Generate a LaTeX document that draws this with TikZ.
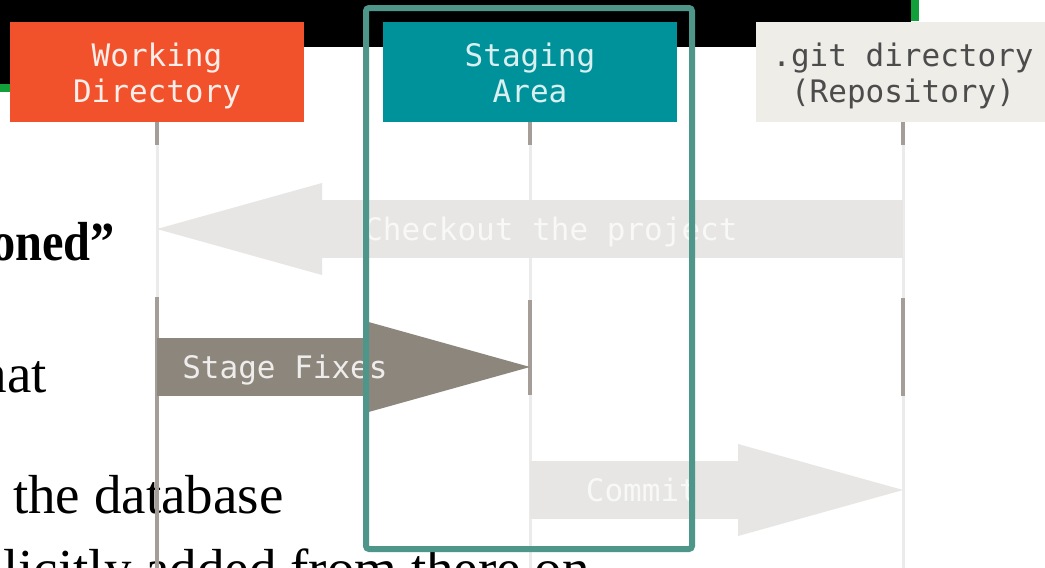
\documentclass[tikz,border=0pt]{standalone}
\usepackage{fontspec}
\usepackage{xcolor}
\usepackage{tikz}
\usetikzlibrary{positioning, arrows.meta}
\newfontfamily\gitmono{DejaVu Sans Mono}
\newfontfamily\slideserif{Liberation Serif}
\newfontfamily\slideserifbold[FakeStretch=0.88]{Liberation Serif Bold}
\definecolor{wdorange}{HTML}{F2522B}
\definecolor{stagingteal}{HTML}{00929A}
\definecolor{repobeige}{HTML}{EEEDE8}
\definecolor{framegreen}{HTML}{4E968A}
\definecolor{slidegreen}{HTML}{12A03A}
\definecolor{lineLight}{HTML}{EBEBEB}
\definecolor{lineDark}{HTML}{A59D97}
\definecolor{arrowLight}{HTML}{E7E6E4}
\definecolor{arrowDark}{HTML}{8D867D}
\tikzset{
	box/.style={minimum width=294pt, minimum height=100pt, inner sep=0pt, align=center, text height=61pt, text depth=0pt, font=\gitmono\fontsize{31}{36}\selectfont},
	lifeline/.style={draw=lineLight, line width=3pt},
	active/.style={draw=lineDark, line width=4pt},
	fatarrow/.style={line width=58pt, -{Triangle[length=165pt, width=92pt, line width=0pt]}},
	arrowtext/.style={font=\gitmono\fontsize{31}{37}\selectfont, inner sep=0pt, text height=22.6pt, text depth=0pt},
	slidetext/.style={font=\slideserif\fontsize{55}{60}\selectfont, inner sep=0pt, text=black},
}

\begin{document}
\begin{tikzpicture}[x=1pt, y=-1pt]
	\useasboundingbox (0,0) rectangle (1045,568);
	\clip (0,0) rectangle (1045,568);
	\fill[white] (0,0) rectangle (1045,568);

	\fill[black] (0,0) rectangle (911,47);
	\fill[black] (0,0) rectangle (10,84);
	\fill[slidegreen] (0,84) rectangle (10,92);
	\fill[slidegreen] (911,0) rectangle (919,21);

	\node[slidetext, anchor=base east] (line1) at (115,260) {\slideserifbold oned”};
	\node[slidetext, anchor=base east] (line2) at (47,392) {hat};
	\node[slidetext, anchor=base west] (line3) at (13,513) {the database};
	\node[slidetext, anchor=base west] (line4) at (3,587) {licitly added from there on};

	\node[box, fill=wdorange, text=white!90!wdorange] (wd) at (157,72) {Working\\Directory};
	\node[box, fill=stagingteal, text=white!85!stagingteal] (sa) at (530,72) {Staging\\Area};
	\node[box, fill=repobeige, text=black!70] (git) at (903,72) {.git directory\\(Repository)};

	\draw[lifeline] (wd.south) -- (wd.south |- 0,568);
	\draw[lifeline] (sa.south) -- (sa.south |- 0,568);
	\draw[lifeline] (git.south) -- (git.south |- 0,568);

	\draw[active] (wd.south) -- ++(0,23);
	\draw[active] (wd.south |- 0,297) -- (wd.south |- 0,568);
	\draw[active] (sa.south) -- ++(0,23);
	\draw[active] (sa.south |- 0,300) -- (sa.south |- 0,395);
	\draw[active] (git.south) -- ++(0,23);
	\draw[active] (git.south |- 0,298) -- (git.south |- 0,396);

	\draw[fatarrow, draw=arrowLight] (git.south |- 0,229) -- (wd.south |- 0,229) node[arrowtext, text=white!70!arrowLight, pos=0.472] {Checkout the project};
	\draw[fatarrow, draw=arrowDark] (wd.south |- 0,367) -- (sa.south |- 0,367) node[arrowtext, text=white!85!arrowDark, pos=0.343] {Stage Fixes};
	\draw[fatarrow, draw=arrowLight] (sa.south |- 0,490) -- (git.south |- 0,490) node[arrowtext, text=white!70!arrowLight, pos=0.3] {Commit};

	\draw[framegreen, line width=6pt, rounded corners=3pt] (366,8) rectangle (692,549);
\end{tikzpicture}
\end{document}
